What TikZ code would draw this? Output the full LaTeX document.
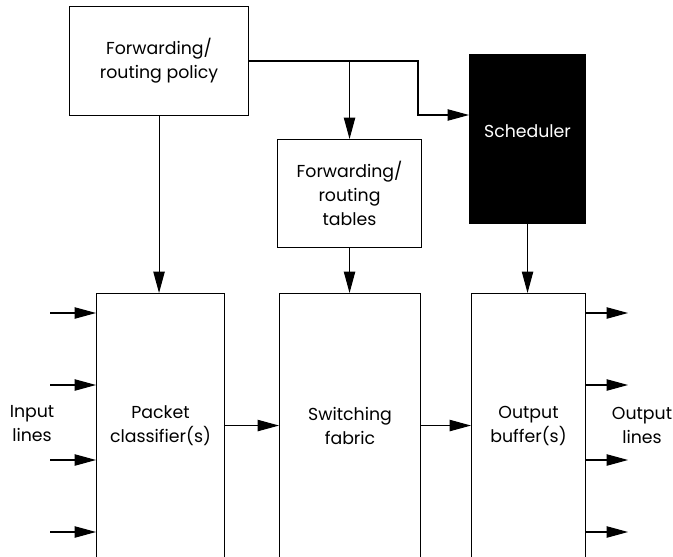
\documentclass[tikz,border=0pt]{standalone}
\usepackage{fontspec}
\setmainfont{Poppins}
\usetikzlibrary{arrows.meta,positioning,calc}

\tikzset{
  box/.style={draw, line width=0.8pt, align=center, inner sep=0pt, anchor=north west,
    font=\fontsize{13}{18}\selectfont},
  arr/.style={line width=0.8pt, -{Triangle[length=16pt,width=8.5pt]}},
  lbl/.style={align=center, font=\fontsize{13}{18}\selectfont}
}

\begin{document}
\begin{tikzpicture}[x=0.75pt,y=-0.75pt]
  \useasboundingbox (0,0) rectangle (673,556);
  \clip (0,0) rectangle (673,556);

  % Top row: policy, tables, scheduler
  \node[box, minimum width=134.25pt, minimum height=81.75pt] (policy) at (69,6) {Forwarding/\\routing policy};
  \node[box, minimum width=108pt, minimum height=81pt] (tables) at (277,139) {Forwarding/\\routing\\tables};
  \node[box, fill=black, text=white, text depth=12pt, minimum width=87pt, minimum height=126.75pt] (sched) at (469,54) {Scheduler};

  % Bottom row: the three long blocks (cut off at the bottom)
  \node[box, minimum width=96pt, minimum height=198pt] (classifier) at (96,293) {Packet\\classifier(s)};
  \node[box, minimum width=105.75pt, minimum height=198pt] (fabric) at (279,293) {Switching\\fabric};
  \node[box, minimum width=85.5pt, minimum height=198pt] (buffer) at (471,293) {Output\\buffer(s)};

  % Side labels
  \node[lbl] (inlines) at (32,424) {Input\\lines};
  \node[lbl] (outlines) at (642,425) {Output\\lines};

  % Policy to tables and scheduler
  \coordinate (bend) at (418,115);
  \draw[arr] (policy.east) -| (bend) -- (bend -| sched.west);
  \draw[arr] (policy.east -| tables.north) -- (tables.north);
  \draw[arr] (policy.south) -- (policy.south |- classifier.north);

  % Down into the bottom row
  \draw[arr] (tables.south) -- (tables.south |- fabric.north);
  \draw[arr] (sched.south) -- (sched.south |- buffer.north);

  % Through the blocks
  \draw[arr] (classifier.east) -- (fabric.west);
  \draw[arr] (fabric.east) -- (buffer.west);

  % Input and output lines
  \foreach \y [count=\i] in {313,385,460,532} {
    \coordinate (in\i) at (50,\y);
    \coordinate (out\i) at (628,\y);
    \draw[arr] (in\i) -- (in\i -| classifier.west);
    \draw[arr] (out\i -| buffer.east) -- (out\i);
  }
\end{tikzpicture}
\end{document}
